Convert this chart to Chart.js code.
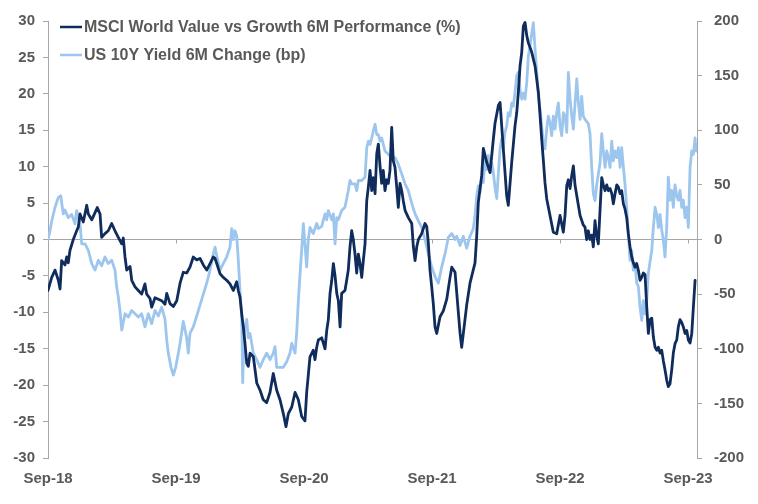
<!DOCTYPE html>
<html><head><meta charset="utf-8">
<script src="https://cdn.jsdelivr.net/npm/chart.js@4.4.1/dist/chart.umd.min.js"></script>
<style>html,body{margin:0;padding:0;background:#fff}</style>
</head><body>
<canvas id="c" width="758" height="504" style="width:758px;height:504px;display:block"></canvas>
<script>
const seriesNames = ['MSCI World Value vs Growth 6M Performance (%)', 'US 10Y Yield 6M Change (bp)'];
const tickMonths = [0, 12, 24, 36, 48, 60];           // months since Sep-18
const tickLabels = ['Sep-18', 'Sep-19', 'Sep-20', 'Sep-21', 'Sep-22', 'Sep-23'];

// MSCI World Value vs Growth 6M performance (%), left axis
const msciMonths = [0,0.35,0.66,0.97,1.13,1.28,1.59,1.75,1.90,2.06,2.37,2.69,2.84,3.00,3.31,3.63,3.78,4.10,4.41,4.62,4.88,5.03,5.34,5.65,5.97,6.28,6.59,6.91,7.06,7.22,7.38,7.69,7.85,8.16,8.47,8.78,9.09,9.25,9.56,9.72,10.03,10.34,10.66,10.97,11.13,11.44,11.75,12.07,12.38,12.68,13.00,13.31,13.62,13.94,14.25,14.56,14.88,15.19,15.50,15.66,15.82,16.13,16.43,16.75,17.06,17.37,17.69,17.84,18.00,18.16,18.31,18.47,18.63,18.78,18.94,19.25,19.57,19.88,20.18,20.50,20.81,21.12,21.44,21.75,22.06,22.31,22.53,22.85,23.16,23.47,23.78,24.09,24.25,24.56,24.87,25.03,25.19,25.34,25.66,25.97,26.13,26.28,26.44,26.60,26.75,26.91,27.07,27.22,27.38,27.53,27.84,28.00,28.15,28.31,28.47,28.62,28.78,28.94,29.09,29.25,29.41,29.56,29.72,29.88,30.03,30.19,30.35,30.50,30.66,30.82,30.97,31.13,31.28,31.43,31.59,31.75,31.90,32.06,32.22,32.37,32.53,32.69,32.84,33.00,33.16,33.31,33.47,33.78,34.10,34.25,34.41,34.57,34.72,35.03,35.34,35.50,35.65,35.81,35.97,36.12,36.28,36.44,36.75,37.06,37.38,37.69,37.85,38.16,38.63,38.78,39.25,39.56,40.03,40.19,40.34,40.66,40.81,41.13,41.44,41.75,41.91,42.22,42.38,42.68,43.00,43.15,43.47,43.78,43.94,44.09,44.25,44.41,44.56,44.72,44.88,45.03,45.35,45.66,45.97,46.13,46.28,46.43,46.59,46.75,47.06,47.37,47.69,48.00,48.31,48.47,48.63,48.78,48.94,49.10,49.25,49.41,49.57,49.88,50.18,50.34,50.50,50.65,50.81,50.97,51.12,51.28,51.44,51.59,51.75,51.91,52.06,52.22,52.38,52.53,52.69,52.85,53.00,53.16,53.32,53.47,53.63,53.78,53.94,54.09,54.25,54.40,54.56,54.72,54.87,55.03,55.19,55.34,55.50,55.66,55.81,55.97,56.13,56.28,56.44,56.60,56.75,56.91,57.07,57.22,57.38,57.53,57.68,57.84,58.00,58.15,58.31,58.47,58.62,58.78,58.94,59.09,59.25,59.41,59.56,59.72,59.88,60.03,60.19,60.35,60.50,60.66];
const msciValues = [-7,-5.2,-4.2,-5.6,-6.8,-2.9,-3.5,-2.4,-3.2,-1.5,0,1.2,1.7,3.5,2.4,4.7,3.5,2.7,3.7,4.4,3.5,0.3,0.8,1.2,2.2,1.2,0.3,-0.6,0.2,-2.4,-4.2,-3.7,-5.6,-6.5,-7,-7.5,-6.1,-7.5,-8.1,-9.3,-8,-8.2,-8.4,-8.9,-7.4,-8.8,-9.2,-8.4,-6,-4.5,-4.6,-3.8,-2.4,-2.8,-2.6,-3.5,-4.2,-3.3,-2.4,-2.6,-3.3,-4.7,-5.2,-5.6,-6.1,-7,-5.8,-7,-7.9,-10.2,-12,-14.3,-17,-17.4,-15.6,-16.1,-19.7,-20.7,-22,-22.4,-21,-18.4,-20.7,-22,-23.9,-25.7,-23.9,-23,-21,-22,-24.3,-24.9,-21,-16.1,-15.2,-16.5,-14.8,-13.8,-13.5,-15,-12.5,-11,-7.4,-5.6,-3.3,-5,-7.4,-8.4,-12,-7.4,-7,-5.6,-4.2,-1,1.2,0,-2,-4.6,-2,-3.3,-5.2,-2.9,-0.6,5.3,7.2,9.5,6.7,8.5,6.3,11.8,13.1,10,7.7,9.5,6.7,8.2,7.7,9.5,15.4,10.8,9.9,7.2,4.4,7.7,6.7,5.3,4,3,2.2,-1,-2.9,-1,0,0.8,2.2,1.8,-0.4,-4.2,-6.5,-8.8,-12,-12.9,-10.6,-9.8,-8.2,-5.2,-3.8,-4.5,-12.9,-14.8,-9,-6,-3.2,0.5,5.1,8.8,12.5,10.6,9.2,13.8,16,18.4,18.8,12.5,6,4.7,10.6,15.6,17.4,20.2,23.8,25.7,29.3,29.8,28,27,25.7,23.8,20.2,17,13.8,11,7.8,5.6,3.3,1,0.8,3.3,1,3.3,7.4,8.2,7,8.8,10.1,7.4,6,3.3,2,1.7,0,1.2,0,0.6,-1,2.6,0.5,-0.6,4,8.5,7.5,6.7,7.5,6.7,7,6.3,4.9,6.3,7.5,7.2,6.3,6.7,4.9,4.2,3,0.8,-1,-2.4,-3.2,-3.8,-3.3,-4.2,-5.6,-5.2,-4.6,-4.8,-9.3,-12.9,-11,-10.8,-13.4,-14.8,-15.2,-14.8,-15.6,-15.2,-16.6,-17.9,-19.3,-20.2,-19.8,-17.9,-15.6,-14.3,-13.8,-12,-11,-11.4,-12,-12.9,-12.5,-13.8,-14.2,-12.9,-9.3,-5.6];

// US 10Y yield 6M change (bp), right axis
const yieldMonths = [0,0.19,0.35,0.66,0.97,1.19,1.43,1.59,1.90,2.22,2.53,2.69,3.00,3.16,3.47,3.78,4.10,4.41,4.72,5.03,5.34,5.65,5.97,6.28,6.44,6.59,6.75,6.91,7.22,7.53,7.85,8.16,8.47,8.78,9.09,9.40,9.72,10.03,10.34,10.66,10.97,11.13,11.28,11.53,11.75,11.97,12.22,12.38,12.68,13.00,13.15,13.31,13.62,13.94,14.25,14.56,14.88,15.19,15.50,15.66,15.82,16.13,16.43,16.75,17.06,17.22,17.37,17.53,17.69,17.84,18.00,18.16,18.25,18.38,18.63,18.78,18.94,19.25,19.57,19.88,20.18,20.50,20.81,21.12,21.28,21.44,21.75,22.06,22.38,22.69,22.85,23.16,23.31,23.47,23.63,23.78,23.94,24.09,24.25,24.40,24.56,24.87,25.19,25.34,25.66,25.97,26.13,26.28,26.60,26.75,26.91,27.07,27.22,27.53,27.84,28.15,28.31,28.47,28.78,28.94,29.09,29.41,29.72,29.88,30.03,30.19,30.35,30.50,30.66,30.82,30.97,31.13,31.28,31.59,31.90,32.22,32.53,32.84,33.16,33.47,33.78,34.10,34.41,34.72,35.03,35.34,35.65,35.97,36.28,36.59,36.91,37.22,37.53,37.85,38.16,38.32,38.63,38.93,39.25,39.56,39.87,40.03,40.19,40.34,40.50,40.66,40.81,40.97,41.13,41.28,41.44,41.60,41.75,41.91,42.07,42.22,42.38,42.53,42.68,42.84,43.00,43.15,43.31,43.47,43.62,43.78,43.94,44.09,44.25,44.41,44.56,44.72,44.88,45.03,45.19,45.35,45.50,45.66,45.82,45.97,46.13,46.28,46.43,46.59,46.75,46.90,47.06,47.22,47.37,47.53,47.69,47.84,48.00,48.16,48.31,48.47,48.63,48.78,48.94,49.10,49.25,49.41,49.57,49.72,49.88,50.03,50.18,50.34,50.65,50.81,50.97,51.12,51.28,51.44,51.59,51.75,51.91,52.06,52.22,52.38,52.53,52.69,52.85,53.00,53.16,53.32,53.47,53.63,53.78,53.94,54.09,54.25,54.40,54.56,54.72,54.87,55.03,55.19,55.34,55.50,55.66,55.81,55.97,56.13,56.28,56.44,56.60,56.75,56.91,57.07,57.22,57.38,57.53,57.68,57.84,58.00,58.15,58.31,58.47,58.62,58.78,58.94,59.09,59.25,59.41,59.56,59.72,59.88,60.03,60.19,60.35,60.50,60.66,60.75];
const yieldValues = [0,8,17,29.5,38.6,40,23.5,27,20,23,14.3,26.5,14,-4,-4,-10,-22,-28,-19,-24,-16,-22,-19,-28,-43.5,-52.7,-65,-83,-68,-71,-65,-68,-71,-68,-80,-68,-77,-65,-70,-62,-73,-92,-104,-117,-124,-117,-104,-95,-75,-90,-104,-86,-80,-70,-60,-50,-40,-28,-13,-7,-15,-28,-22,-16,-7,10,0,8,3,-19,-47,-71,-131,-86,-73,-90,-86,-104,-110,-117,-110,-104,-110,-104,-98,-117,-117,-117,-112,-104,-95,-104,-86,-56,-31,-10,14.6,-5,-25,0,11,5.5,14.6,10,12,23.5,18,26.5,18,23.5,-4,20,18,26.5,29.5,44.7,54,51,51,44.7,54,54,57,84,90,87,93,99.5,105.6,96,96,90,93,81,78,75,75,69,60,51,44.7,33,23.5,17,11,0,-13,-25,-34,-40,-25,-13,2,5.5,0,3,-5.5,3,-8,3,10,22,40,49,43,58,52,74,64,77,61,70,61.5,47,37.5,61,83,92,83,98,104,116,113,125,122,134.5,150,153,137.6,128.5,134,128.5,143.7,168,177,189,198.4,174,153,131.5,119,104,89,83,101,113,107,95,113,101,116,125,104,95,116,113,98,153,128.5,113,101,125,147,125,110,131,113,110,106,97,66,42,35.6,50,60,70,97,81,66,81,75,66,90,72,81,75,84,66,84,66,51,29.5,5.5,-19,-10,-28,-22,-40,-43,-62,-74,-56,-68,-56,-31,-20,-10,11,29.5,23,11,23,9,0,-16,11,57,36,45,29.5,50,40,36,45,29.5,36,20,29.5,11,66,81,78,93,81];

const DARK = '#0f2c5c', LIGHT = '#9dc6ee', TEXT = '#595959', AXIS = '#a6a6a6';
const FONT = '"Liberation Sans", Arial, sans-serif';

const toPoints = (xs, ys) => xs.map((m, i) => ({ x: m, y: ys[i] }));

const legendPlugin = {
  id: 'insideLegend',
  afterDraw(chart) {
    const ctx = chart.ctx;
    ctx.save();
    chart.data.datasets.forEach((ds, i) => {
      const y = 27 + i * 28;
      ctx.strokeStyle = ds.borderColor;
      ctx.lineWidth = 2.5;
      ctx.beginPath(); ctx.moveTo(60, y); ctx.lineTo(82, y); ctx.stroke();
      ctx.fillStyle = TEXT;
      ctx.font = 'bold 16px ' + FONT;
      ctx.textBaseline = 'middle';
      ctx.textAlign = 'left';
      ctx.fillText(ds.label, 84, y + 1);
    });
    ctx.restore();
  }
};

const zeroTicksPlugin = {
  id: 'zeroTicks',
  beforeDatasetsDraw(chart) {
    const xs = chart.scales.x, ys = chart.scales.y;
    const y0 = ys.getPixelForValue(0);
    const ctx = chart.ctx;
    ctx.save();
    ctx.strokeStyle = AXIS; ctx.lineWidth = 1;
    tickMonths.forEach(m => {
      const px = Math.round(xs.getPixelForValue(m)) + 0.5;
      ctx.beginPath(); ctx.moveTo(px, y0); ctx.lineTo(px, y0 + 4); ctx.stroke();
    });
    ctx.restore();
  }
};

new Chart(document.getElementById('c'), {
  type: 'line',
  data: {
    datasets: [
      { label: seriesNames[0], data: toPoints(msciMonths, msciValues), yAxisID: 'y',
        borderColor: DARK, backgroundColor: DARK, borderWidth: 2.8, pointRadius: 0, tension: 0,
        borderJoinStyle: 'round', borderCapStyle: 'round' },
      { label: seriesNames[1], data: toPoints(yieldMonths, yieldValues), yAxisID: 'y1',
        borderColor: LIGHT, backgroundColor: LIGHT, borderWidth: 2.8, pointRadius: 0, tension: 0,
        borderJoinStyle: 'round', borderCapStyle: 'round' }
    ]
  },
  options: {
    responsive: false,
    animation: false,
    layout: { padding: { top: 20, left: 0, right: 0, bottom: 0 } },
    plugins: { legend: { display: false }, tooltip: { enabled: false } },
    scales: {
      x: {
        type: 'linear', position: 'bottom', min: 0, max: 60.84,
        afterBuildTicks: s => { s.ticks = tickMonths.map(v => ({ value: v })); },
        afterFit: s => { s.height = 46; },
        grid: { display: false, drawTicks: false },
        border: { display: false },
        ticks: {
          autoSkip: false, maxRotation: 0, padding: 12, color: TEXT,
          font: { family: FONT, size: 15, weight: 'bold' },
          callback: v => tickLabels[tickMonths.indexOf(v)]
        }
      },
      y: {
        position: 'left', min: -30, max: 30,
        afterFit: s => { s.width = 48; },
        ticks: { stepSize: 5, padding: 8, color: TEXT, font: { family: FONT, size: 15, weight: 'bold' } },
        grid: {
          color: c => (c.tick && c.tick.value === 0) ? AXIS : 'rgba(0,0,0,0)',
          tickColor: AXIS, tickLength: 5, lineWidth: 1
        },
        border: { display: true, color: AXIS, width: 1 }
      },
      y1: {
        position: 'right', min: -200, max: 200,
        afterFit: s => { s.width = 61; },
        ticks: { stepSize: 50, padding: 12, color: TEXT, font: { family: FONT, size: 15, weight: 'bold' } },
        grid: { drawOnChartArea: false, tickColor: AXIS, tickLength: 5, color: AXIS },
        border: { display: true, color: AXIS, width: 1 }
      }
    }
  },
  plugins: [legendPlugin, zeroTicksPlugin]
});
</script>
</body></html>
